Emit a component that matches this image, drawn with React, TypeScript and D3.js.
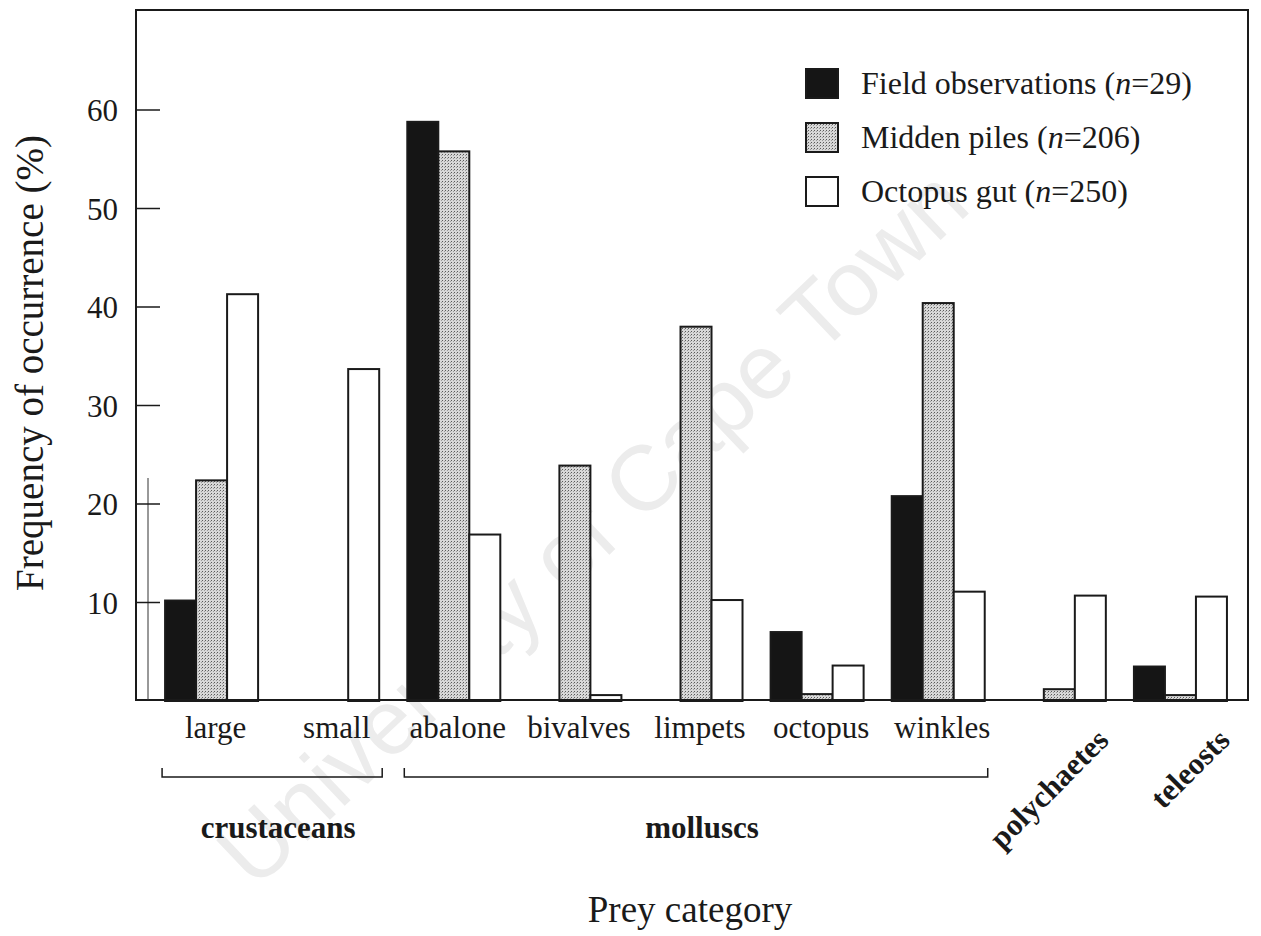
import React from "react";
import * as d3 from "d3";

const categories = ["large", "small", "abalone", "bivalves", "limpets", "octopus", "winkles", "polychaetes", "teleosts"];
const seriesNames = ["Field observations", "Midden piles", "Octopus gut"];
const seriesN = ["29", "206", "250"];
const fieldObs = [10.2, 0, 58.8, 0, 0, 7.0, 20.8, 0, 3.5];
const middenPiles = [22.4, 0, 55.8, 23.9, 38.0, 0.7, 40.4, 1.2, 0.6];
const octopusGut = [41.3, 33.7, 16.9, 0.6, 10.25, 3.6, 11.1, 10.7, 10.6];
const yTicks = [10, 20, 30, 40, 50, 60];
const groupLabels = [
  { name: "crustaceans", from: "large", to: "small" },
  { name: "molluscs", from: "abalone", to: "winkles" },
];
const rotatedCats = ["polychaetes", "teleosts"];

const W = 1261;
const H = 936;
const L = 136;
const R = 1248;
const T = 10;
const B = 700;
const SERIF = "'Liberation Serif', 'Times New Roman', serif";

export default function App() {
  const seriesValues = [fieldObs, middenPiles, octopusGut];
  const y = d3.scaleLinear().domain([0, 70]).range([701, 11.5]);
  const x = d3
    .scaleBand<string>()
    .domain(categories)
    .range([L, R])
    .paddingInner(0.232)
    .paddingOuter(0.207)
    .align(0.58);
  const bw = x.bandwidth();
  const xs = d3.scaleBand<number>().domain([0, 1, 2]).range([0, bw]).padding(0);
  const fills = ["#151515", "url(#dots)", "#ffffff"];

  return (
    <svg width={W} height={H} viewBox={`0 0 ${W} ${H}`} style={{ display: "block", position: "absolute", left: 0, top: 0, background: "#fff" }}>
      <defs>
        <pattern id="dots" width="3" height="3" patternUnits="userSpaceOnUse">
          <rect width="3" height="3" fill="#d8d8d8" />
          <rect x="1" y="1" width="1" height="1" fill="#5a5a5a" />
          <rect x="0" y="2" width="1" height="1" fill="#9a9a9a" />
        </pattern>
      </defs>
      <rect x={0} y={0} width={W} height={H} fill="#fff" />

      {/* watermark */}
      <text
        x={592}
        y={527}
        transform="rotate(-43.5 592 527)"
        textAnchor="middle"
        dominantBaseline="central"
        fontFamily="'Liberation Sans', Arial, sans-serif"
        fontSize={92}
        fill="#ececec"
      >
        University of Cape Town
      </text>

      {/* bars */}
      {categories.map((c, i) => (
        <g key={c}>
          {seriesValues.map((vals, s) => {
            const v = vals[i];
            if (v <= 0) return null;
            return (
              <rect
                key={s}
                x={(x(c) as number) + (xs(s) as number)}
                y={y(v)}
                width={xs.bandwidth()}
                height={y(0) - y(v)}
                fill={fills[s]}
                stroke="#1a1a1a"
                strokeWidth={2}
              />
            );
          })}
        </g>
      ))}

      {/* frame */}
      <rect x={L} y={T} width={R - L} height={B - T} fill="none" stroke="#1a1a1a" strokeWidth={2} />
      <line x1={148} x2={148} y1={478} y2={B} stroke="#333" strokeWidth={1} />

      {/* y ticks */}
      {yTicks.map((t) => (
        <g key={t}>
          <line x1={L} x2={L + 24} y1={y(t)} y2={y(t)} stroke="#1a1a1a" strokeWidth={1.5} />
          <text x={118} y={y(t)} dy="0.36em" textAnchor="end" fontFamily={SERIF} fontSize={31} fill="#1a1a1a">
            {t}
          </text>
        </g>
      ))}

      {/* y title */}
      <text
        transform={`translate(43, 363) rotate(-90)`}
        textAnchor="middle"
        fontFamily={SERIF}
        fontSize={39}
        fill="#1a1a1a"
      >
        Frequency of occurrence (%)
      </text>

      {/* category labels */}
      {categories.map((c) => {
        const cx = (x(c) as number) + bw / 2;
        if (rotatedCats.includes(c)) {
          return (
            <text
              key={c}
              transform={`translate(${cx + 51}, 742) rotate(-45)`}
              textAnchor="end"
              fontFamily={SERIF}
              fontWeight="bold"
              fontSize={31}
              fill="#1a1a1a"
            >
              {c}
            </text>
          );
        }
        return (
          <text key={c} x={cx + 4} y={738} textAnchor="middle" fontFamily={SERIF} fontSize={31} fill="#1a1a1a">
            {c}
          </text>
        );
      })}

      {/* group brackets */}
      {groupLabels.map((g) => {
        const x1 = (x(g.from) as number) - 3;
        const x2 = (x(g.to) as number) + bw + 3;
        const by = 777;
        return (
          <g key={g.name}>
            <path d={`M${x1},${by - 9}V${by}H${x2}V${by - 9}`} fill="none" stroke="#1a1a1a" strokeWidth={1.5} />
            <text x={(x1 + x2) / 2 + 6} y={838} textAnchor="middle" fontFamily={SERIF} fontWeight="bold" fontSize={31} fill="#1a1a1a">
              {g.name}
            </text>
          </g>
        );
      })}

      {/* x title */}
      <text x={690} y={922} textAnchor="middle" fontFamily={SERIF} fontSize={37} fill="#1a1a1a">
        Prey category
      </text>

      {/* legend */}
      {seriesNames.map((n, i) => {
        const cy = 83 + i * 54;
        return (
          <g key={n}>
            <rect x={806} y={cy - 14} width={32} height={29} fill={fills[i]} stroke="#1a1a1a" strokeWidth={2} />
            <text x={861} y={cy + 11} fontFamily={SERIF} fontSize={32} fill="#1a1a1a">
              {n} (<tspan fontStyle="italic">n</tspan>={seriesN[i]})
            </text>
          </g>
        );
      })}
    </svg>
  );
}
